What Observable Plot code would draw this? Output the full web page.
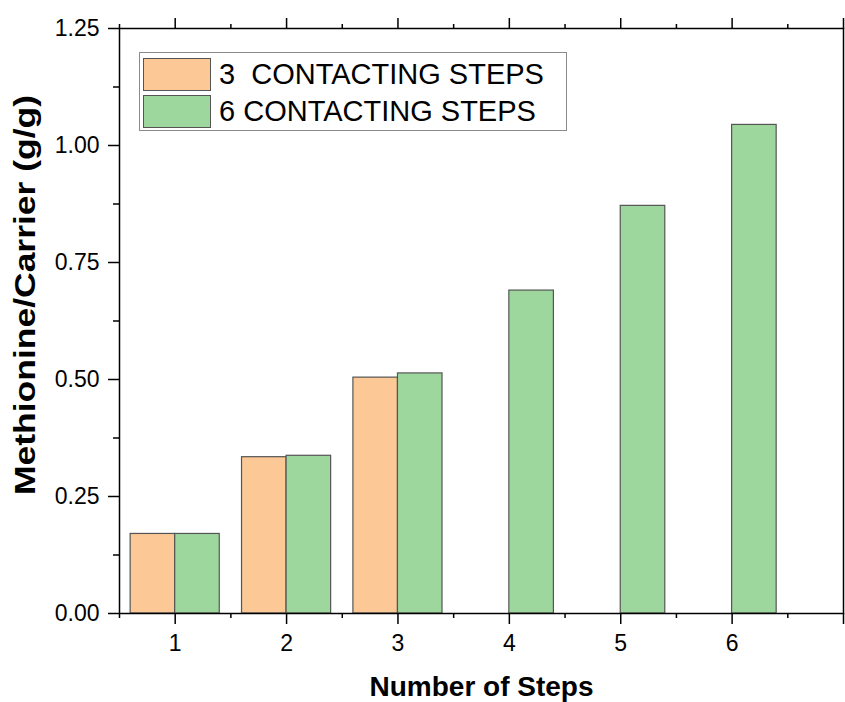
<!DOCTYPE html>
<html>
<head>
<meta charset="utf-8">
<script src="https://cdn.jsdelivr.net/npm/d3@7"></script>
<script src="https://cdn.jsdelivr.net/npm/@observablehq/plot@0.6"></script>
<style>
  html, body { margin: 0; padding: 0; background: #fff; }
  #wrap { position: relative; width: 845px; height: 702px; font-family: "Liberation Sans", Arial, sans-serif; }
  #legend { position: absolute; left: 139px; top: 52px; width: 426px; height: 77px; border: 1px solid #8a8a8a; background: #fff; }
  .row { position: absolute; left: 3px; height: 34px; display: flex; align-items: center; }
  .sw { width: 66px; height: 31px; border: 1.5px solid #555; box-sizing: content-box; }
  .lab { margin-left: 8px; font-size: 29px; color: #000; white-space: pre; line-height: 34px; }
</style>
</head>
<body>
<div id="wrap"></div>
<script>
// ---- data ----
const steps = [1, 2, 3, 4, 5, 6];
const threeContacting = [0.170, 0.334, 0.504, null, null, null];
const sixContacting = [0.170, 0.337, 0.513, 0.690, 0.871, 1.044];
const seriesNames = ["3  CONTACTING STEPS", "6 CONTACTING STEPS"];
const seriesColors = ["#fbc896", "#9ed79d"];
const yTicks = [0, 0.25, 0.5, 0.75, 1.0, 1.25];
const yMinorTicks = [0.125, 0.375, 0.625, 0.875, 1.125];
const xMajorTicks = [1, 2, 3, 4, 5, 6, 7];
const xMinorTicks = [0.5, 1.5, 2.5, 3.5, 4.5, 5.5, 6.5];
const xLabel = "Number of Steps";
const yLabel = "Methionine/Carrier (g/g)";

const barW = 0.4;
const rows = [];
steps.forEach((s, i) => {
  if (threeContacting[i] != null) rows.push({step: s, value: threeContacting[i], series: seriesNames[0], off: -barW});
  if (sixContacting[i] != null) rows.push({step: s, value: sixContacting[i], series: seriesNames[1], off: 0});
});

const chart = Plot.plot({
  width: 845,
  height: 702,
  marginLeft: 119,
  marginRight: 2,
  marginTop: 28,
  marginBottom: 89,
  style: {fontFamily: '"Liberation Sans", Arial, sans-serif', fontSize: "23px", color: "#000", background: "#fff"},
  x: {domain: [0.5, 7]},
  y: {domain: [0, 1.25]},
  color: {domain: seriesNames, range: seriesColors},
  marks: [
    Plot.rectY(rows, {x1: d => d.step + d.off, x2: d => d.step + d.off + barW, y1: 0, y2: "value", fill: "series", stroke: "#555", strokeWidth: 1.2}),
    Plot.frame({stroke: "#000", strokeWidth: 1.5}),
    Plot.axisY({ticks: yTicks, tickSize: 11, tickPadding: 9, tickFormat: d3.format(".2f"), strokeWidth: 1.5, label: null}),
    Plot.axisY({ticks: yMinorTicks, tickSize: 6, tickFormat: () => "", strokeWidth: 1.5, label: null}),
    Plot.axisX({ticks: xMajorTicks, tickSize: 11, tickPadding: 10, tickFormat: d => steps.includes(d) ? String(d) : "", strokeWidth: 1.5, label: null}),
    Plot.axisX({ticks: xMinorTicks, tickSize: 5, tickFormat: () => "", strokeWidth: 1.5, label: null}),
    Plot.axisX({anchor: "top", ticks: xMajorTicks, tickSize: 11, tickFormat: () => "", strokeWidth: 1.5, label: null}),
    Plot.axisX({anchor: "top", ticks: xMinorTicks, tickSize: 5, tickFormat: () => "", strokeWidth: 1.5, label: null}),
    Plot.text([xLabel], {text: d => d, frameAnchor: "bottom", dy: 74, fontSize: 28, fontWeight: "bold", lineAnchor: "middle"}),
    Plot.text([yLabel], {text: d => d, frameAnchor: "left", textAnchor: "middle", rotate: -90, dx: -94, dy: -26, fontSize: 30, fontWeight: "bold", lineAnchor: "middle", className: "ylab"})
  ]
});

// stretch the y title to the reference's length
d3.select(chart).selectAll(".ylab text").attr("textLength", 400).attr("lengthAdjust", "spacingAndGlyphs");

const wrap = document.getElementById("wrap");
wrap.appendChild(chart);

// legend overlay inside plot area
const legend = document.createElement("div");
legend.id = "legend";
seriesNames.forEach((name, i) => {
  const row = document.createElement("div");
  row.className = "row";
  row.style.top = (4 + i * 37) + "px";
  const sw = document.createElement("div");
  sw.className = "sw";
  sw.style.background = seriesColors[i];
  const lab = document.createElement("span");
  lab.className = "lab";
  lab.textContent = name;
  row.appendChild(sw);
  row.appendChild(lab);
  legend.appendChild(row);
});
wrap.appendChild(legend);
</script>
</body>
</html>
